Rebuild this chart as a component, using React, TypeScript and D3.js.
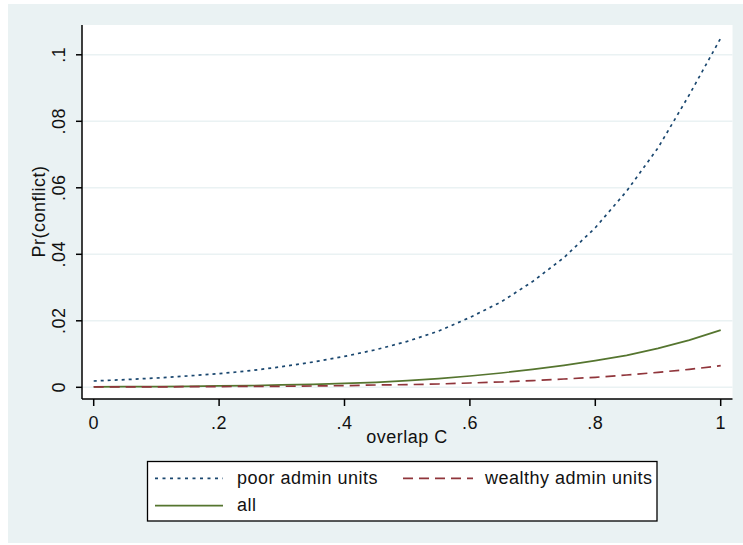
import React from 'react';
import * as d3 from 'd3';

// overlap C values (x) and predicted probabilities
const overlap = [0, 0.05, 0.1, 0.15, 0.2, 0.25, 0.3, 0.35, 0.4, 0.45, 0.5, 0.55, 0.6, 0.65, 0.7, 0.75, 0.8, 0.85, 0.9, 0.95, 1];
const poor = [0.0019, 0.0023, 0.0028, 0.0034, 0.0041, 0.005, 0.0062, 0.0076, 0.0093, 0.0113, 0.0138, 0.0169, 0.021, 0.0257, 0.0318, 0.039, 0.048, 0.059, 0.072, 0.088, 0.105];
const wealthy = [0.0001, 0.0001, 0.0001, 0.0002, 0.0002, 0.0003, 0.0003, 0.0004, 0.0005, 0.0007, 0.0008, 0.001, 0.0013, 0.0016, 0.002, 0.0025, 0.003, 0.0037, 0.0045, 0.0054, 0.0065];
const all = [0.0001, 0.0002, 0.0002, 0.0003, 0.0004, 0.0005, 0.0007, 0.0009, 0.0012, 0.0015, 0.002, 0.0026, 0.0034, 0.0043, 0.0054, 0.0066, 0.008, 0.0096, 0.0117, 0.0142, 0.0172];

const xTicks = [0, 0.2, 0.4, 0.6, 0.8, 1];
const xTickLabels = ['0', '.2', '.4', '.6', '.8', '1'];
const yTicks = [0, 0.02, 0.04, 0.06, 0.08, 0.1];
const yTickLabels = ['0', '.02', '.04', '.06', '.08', '.1'];

const series = [
  { name: 'poor admin units', values: poor, color: '#1a476f', dash: '3,4' },
  { name: 'all', values: all, color: '#55752f', dash: null },
  { name: 'wealthy admin units', values: wealthy, color: '#90353b', dash: '10,6' },
];

const font = '"Liberation Sans", Arial, sans-serif';
const bg = '#eaf2f3';

export default function App() {
  const x = d3.scaleLinear().domain([0, 1]).range([93.7, 720.7]);
  const y = d3.scaleLinear().domain([0, 0.1]).range([387.3, 54.8]);

  const plot = { left: 82, right: 732.5, top: 25, bottom: 399 };

  const line = (vals: number[]) =>
    d3.line<number>()
      .x((_, i) => x(overlap[i]))
      .y((d) => y(d))(vals) || '';

  const txt = { fontFamily: font, fontSize: 18, letterSpacing: 0.5, fill: '#111' };

  return (
    <svg width={743} height={545} style={{ position: 'absolute', left: 0, top: 0, display: 'block' }}>
      <rect x={0} y={0} width={743} height={545} fill="#fff" />
      <rect x={8} y={4} width={735} height={539} fill={bg} />
      <rect x={plot.left} y={plot.top} width={plot.right - plot.left} height={plot.bottom - plot.top} fill="#fff" />

      {/* gridlines */}
      {yTicks.map((t) => (
        <line key={'g' + t} x1={plot.left} x2={plot.right} y1={y(t)} y2={y(t)} stroke={bg} strokeWidth={1.5} />
      ))}

      {/* series */}
      {series.map((s) => (
        <path key={s.name} d={line(s.values)} fill="none" stroke={s.color} strokeWidth={1.7}
          strokeDasharray={s.dash || undefined} />
      ))}

      {/* axes */}
      <line x1={plot.left} x2={plot.left} y1={plot.top} y2={plot.bottom} stroke="#000" strokeWidth={1.5} />
      <line x1={plot.left} x2={plot.right} y1={plot.bottom} y2={plot.bottom} stroke="#000" strokeWidth={1.5} />

      {yTicks.map((t, i) => (
        <g key={'y' + t}>
          <line x1={plot.left - 6} x2={plot.left} y1={y(t)} y2={y(t)} stroke="#000" strokeWidth={1.5} />
          <text transform={`translate(65,${y(t)}) rotate(-90)`} textAnchor="middle" style={txt}>{yTickLabels[i]}</text>
        </g>
      ))}
      {xTicks.map((t, i) => (
        <g key={'x' + t}>
          <line x1={x(t)} x2={x(t)} y1={plot.bottom} y2={plot.bottom + 7} stroke="#000" strokeWidth={1.5} />
          <text x={x(t)} y={428.5} textAnchor="middle" style={txt}>{xTickLabels[i]}</text>
        </g>
      ))}

      <text x={407} y={443} textAnchor="middle" style={txt}>overlap C</text>
      <text transform="translate(45,211.5) rotate(-90)" textAnchor="middle" style={txt}>Pr(conflict)</text>

      {/* legend */}
      <rect x={147.5} y={461.5} width={509.5} height={59.5} fill="#fff" stroke="#000" strokeWidth={1.3} />
      <line x1={155} x2={223} y1={478.3} y2={478.3} stroke={series[0].color} strokeWidth={1.7} strokeDasharray="3,4.5" />
      <text x={237} y={483.5} style={txt}>{series[0].name}</text>
      <line x1={403} x2={473} y1={478.3} y2={478.3} stroke={series[2].color} strokeWidth={1.7} strokeDasharray="10,6" />
      <text x={485} y={483.5} style={txt}>{series[2].name}</text>
      <line x1={155} x2={223} y1={505.7} y2={505.7} stroke={series[1].color} strokeWidth={1.7} />
      <text x={237} y={511} style={txt}>{series[1].name}</text>
    </svg>
  );
}
